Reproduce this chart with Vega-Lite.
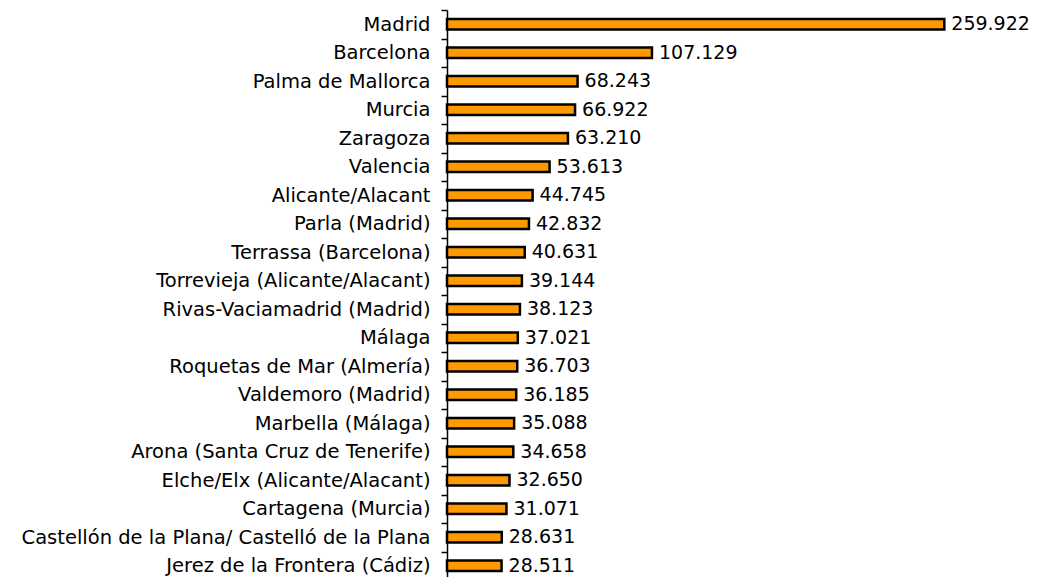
{
  "$schema": "https://vega.github.io/schema/vega-lite/v6.json",
  "autosize": "none",
  "padding": {"left": 447, "top": 10, "right": 16, "bottom": 0},
  "width": 574,
  "height": 570,
  "background": "white",
  "config": {
    "view": {"stroke": null},
    "locale": {"number": {"decimal": ",", "thousands": ".", "grouping": [3], "currency": ["", " €"]}}
  },
  "data": {
    "values": [
      {"ciudad": "Madrid", "valor": 259922},
      {"ciudad": "Barcelona", "valor": 107129},
      {"ciudad": "Palma de Mallorca", "valor": 68243},
      {"ciudad": "Murcia", "valor": 66922},
      {"ciudad": "Zaragoza", "valor": 63210},
      {"ciudad": "Valencia", "valor": 53613},
      {"ciudad": "Alicante/Alacant", "valor": 44745},
      {"ciudad": "Parla (Madrid)", "valor": 42832},
      {"ciudad": "Terrassa (Barcelona)", "valor": 40631},
      {"ciudad": "Torrevieja (Alicante/Alacant)", "valor": 39144},
      {"ciudad": "Rivas-Vaciamadrid (Madrid)", "valor": 38123},
      {"ciudad": "Málaga", "valor": 37021},
      {"ciudad": "Roquetas de Mar (Almería)", "valor": 36703},
      {"ciudad": "Valdemoro (Madrid)", "valor": 36185},
      {"ciudad": "Marbella (Málaga)", "valor": 35088},
      {"ciudad": "Arona (Santa Cruz de Tenerife)", "valor": 34658},
      {"ciudad": "Elche/Elx (Alicante/Alacant)", "valor": 32650},
      {"ciudad": "Cartagena (Murcia)", "valor": 31071},
      {"ciudad": "Castellón de la Plana/ Castelló de la Plana", "valor": 28631},
      {"ciudad": "Jerez de la Frontera (Cádiz)", "valor": 28511}
    ]
  },
  "encoding": {
    "y": {
      "field": "ciudad",
      "type": "nominal",
      "sort": {"field": "valor", "order": "descending"},
      "scale": {"paddingInner": 0, "paddingOuter": 0},
      "axis": {
        "title": null,
        "tickBand": "extent",
        "tickSize": 6,
        "tickColor": "black",
        "tickWidth": 1.5,
        "domainColor": "black",
        "domainWidth": 1.5,
        "labelFont": "DejaVu Sans",
        "labelFontSize": 19.5,
        "labelColor": "black",
        "labelPadding": 11,
        "labelLimit": 0,
        "grid": false
      }
    },
    "x": {
      "field": "valor",
      "type": "quantitative",
      "scale": {"domain": [0, 300000], "nice": false, "zero": true},
      "axis": null
    }
  },
  "layer": [
    {
      "mark": {"type": "bar", "size": 10.5, "fill": "#FF9900", "stroke": "black", "strokeWidth": 2.5}
    },
    {
      "mark": {"type": "text", "align": "left", "baseline": "middle", "dx": 7, "font": "DejaVu Sans", "fontSize": 19, "color": "black"},
      "encoding": {
        "text": {"field": "valor", "type": "quantitative", "format": ",d"}
      }
    }
  ]
}
